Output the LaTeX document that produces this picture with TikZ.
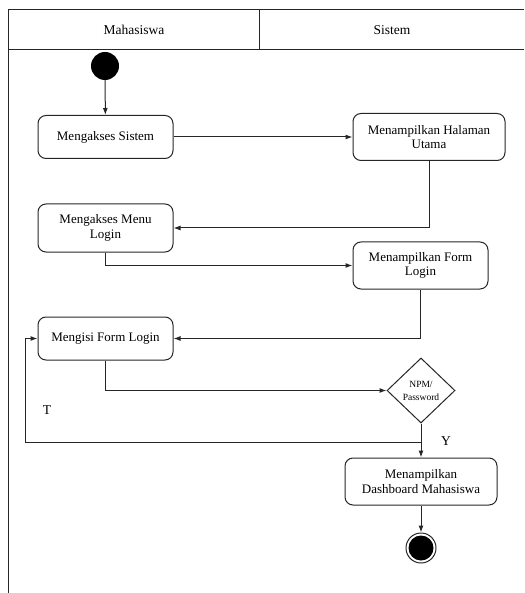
\documentclass[tikz,border=0pt]{standalone}
\usepackage{fontspec}
\setmainfont{Liberation Serif}
\usetikzlibrary{arrows.meta,shapes.geometric}
\begin{document}
\begin{tikzpicture}[x=1pt,y=-1pt,
  line/.style={draw=black!85,line width=1pt},
  flow/.style={line,-{Latex[length=7pt,width=5pt]}},
  act/.style={draw=black!85,line width=1pt,rounded corners=8pt,align=center,
    inner sep=0pt,font=\fontsize{13}{14.5}\selectfont},
  lbl/.style={font=\fontsize{13.5}{15}\selectfont,inner sep=0pt}]
\useasboundingbox (0,0) rectangle (524,593);
% swimlane frame
\draw[line] (524,10) -- (8,10) -- (8,593);
\draw[line] (8,50) -- (524,50);
\draw[line] (259,10) -- (259,50);
\node[lbl] (hm) at (134,30) {Mahasiswa};
\node[lbl] (hs) at (392,30) {Sistem};
% start
\node[circle,fill=black,minimum size=28pt,inner sep=0pt] (start) at (105,66) {};
% activities
\node[act,minimum width=135pt,minimum height=43pt] (a1) at (105.5,137) {Mengakses Sistem};
\node[act,minimum width=152pt,minimum height=47pt] (s1) at (429,137) {Menampilkan Halaman\\Utama};
\node[act,minimum width=135pt,minimum height=48pt] (a2) at (105.5,228) {Mengakses Menu\\Login};
\node[act,minimum width=135pt,minimum height=47pt] (s2) at (420.5,265.5) {Menampilkan Form\\Login};
\node[act,minimum width=135pt,minimum height=43pt] (a3) at (105.5,338.5) {Mengisi Form Login};
\node[diamond,draw=black!85,line width=1pt,minimum width=68pt,minimum height=65pt,
  inner sep=0pt,align=center,font=\fontsize{9.5}{13}\selectfont] (d) at (421,390.5) {NPM/\\Password};
\node[act,minimum width=152pt,minimum height=47pt] (s3) at (421,481.5) {Menampilkan\\Dashboard Mahasiswa};
% end
\node[circle,draw=black!85,line width=1pt,minimum size=30pt,inner sep=0pt] (end) at (421,548) {};
\node[circle,fill=black,minimum size=25pt,inner sep=0pt] (endin) at (end) {};
% flows
\draw[flow] (start) -- (a1);
\draw[flow] (a1.east) -- (s1.west);
\draw[flow] (s1.south) |- (a2.east);
\draw[flow] (a2.south) |- (s2.west);
\draw[flow] (s2.south) |- (a3.east);
\draw[flow] (a3.south) |- (d.west);
\draw[flow] (d.south) -- (s3.north);
\coordinate (br) at (421,442);
\coordinate (bl) at (25,442);
\draw[flow] (br) -- (bl) |- (a3.west);
\draw[flow] (s3.south) -- (end.north);
% guards
\node[lbl] (t) at (47,410) {T};
\node[lbl] (y) at (446,441) {Y};
\end{tikzpicture}
\end{document}
